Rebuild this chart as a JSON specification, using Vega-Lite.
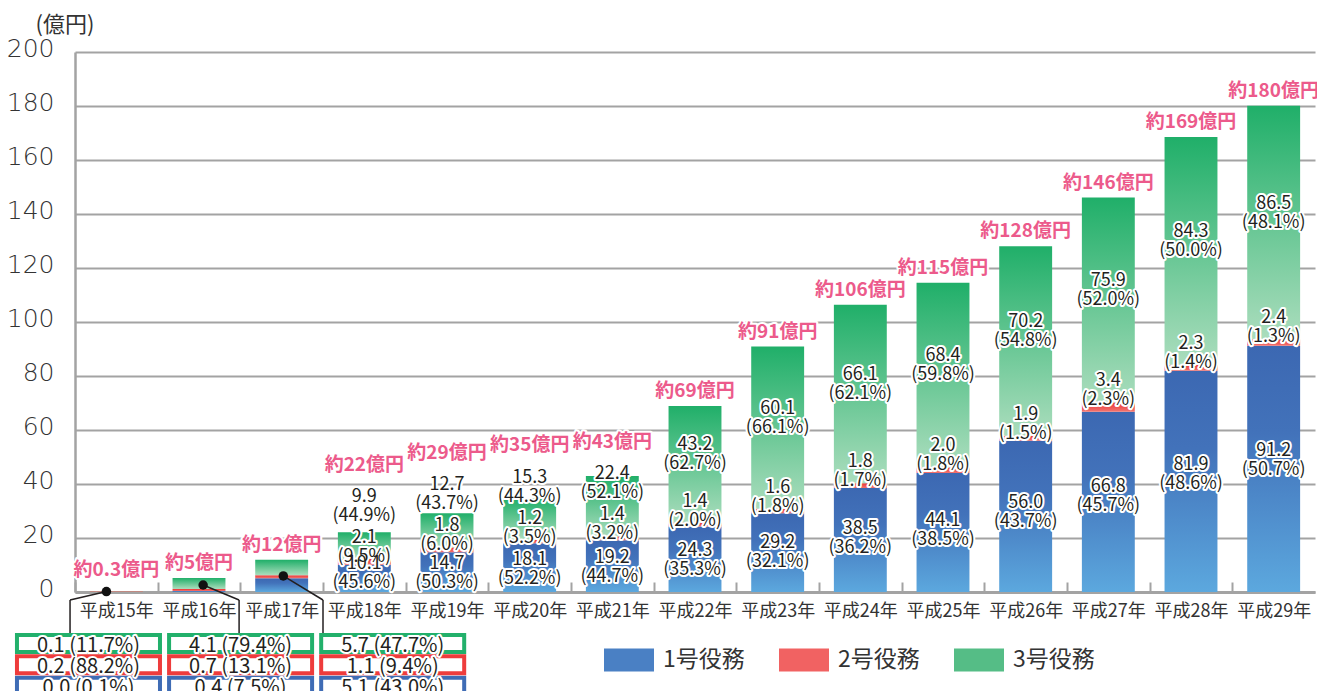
{
  "$schema": "https://vega.github.io/schema/vega-lite/v6.json",
  "autosize": {"type": "none"},
  "width": 1240,
  "height": 540,
  "padding": {"left": 75, "top": 52, "right": 2, "bottom": 99},
  "background": "white",
  "config": {
    "view": {"stroke": null},
    "font": "Noto Sans CJK JP",
    "text": {"font": "Noto Sans CJK JP"}
  },
  "data": {
    "values": [
      {"year": "平成15年", "series": "1号役務", "value": 0.0, "pct": 0.1},
      {"year": "平成15年", "series": "2号役務", "value": 0.2, "pct": 88.2},
      {"year": "平成15年", "series": "3号役務", "value": 0.1, "pct": 11.7},
      {"year": "平成16年", "series": "1号役務", "value": 0.4, "pct": 7.5},
      {"year": "平成16年", "series": "2号役務", "value": 0.7, "pct": 13.1},
      {"year": "平成16年", "series": "3号役務", "value": 4.1, "pct": 79.4},
      {"year": "平成17年", "series": "1号役務", "value": 5.1, "pct": 43.0},
      {"year": "平成17年", "series": "2号役務", "value": 1.1, "pct": 9.4},
      {"year": "平成17年", "series": "3号役務", "value": 5.7, "pct": 47.7},
      {"year": "平成18年", "series": "1号役務", "value": 10.1, "pct": 45.6},
      {"year": "平成18年", "series": "2号役務", "value": 2.1, "pct": 9.5},
      {"year": "平成18年", "series": "3号役務", "value": 9.9, "pct": 44.9},
      {"year": "平成19年", "series": "1号役務", "value": 14.7, "pct": 50.3},
      {"year": "平成19年", "series": "2号役務", "value": 1.8, "pct": 6.0},
      {"year": "平成19年", "series": "3号役務", "value": 12.7, "pct": 43.7},
      {"year": "平成20年", "series": "1号役務", "value": 18.1, "pct": 52.2},
      {"year": "平成20年", "series": "2号役務", "value": 1.2, "pct": 3.5},
      {"year": "平成20年", "series": "3号役務", "value": 15.3, "pct": 44.3},
      {"year": "平成21年", "series": "1号役務", "value": 19.2, "pct": 44.7},
      {"year": "平成21年", "series": "2号役務", "value": 1.4, "pct": 3.2},
      {"year": "平成21年", "series": "3号役務", "value": 22.4, "pct": 52.1},
      {"year": "平成22年", "series": "1号役務", "value": 24.3, "pct": 35.3},
      {"year": "平成22年", "series": "2号役務", "value": 1.4, "pct": 2.0},
      {"year": "平成22年", "series": "3号役務", "value": 43.2, "pct": 62.7},
      {"year": "平成23年", "series": "1号役務", "value": 29.2, "pct": 32.1},
      {"year": "平成23年", "series": "2号役務", "value": 1.6, "pct": 1.8},
      {"year": "平成23年", "series": "3号役務", "value": 60.1, "pct": 66.1},
      {"year": "平成24年", "series": "1号役務", "value": 38.5, "pct": 36.2},
      {"year": "平成24年", "series": "2号役務", "value": 1.8, "pct": 1.7},
      {"year": "平成24年", "series": "3号役務", "value": 66.1, "pct": 62.1},
      {"year": "平成25年", "series": "1号役務", "value": 44.1, "pct": 38.5},
      {"year": "平成25年", "series": "2号役務", "value": 2.0, "pct": 1.8},
      {"year": "平成25年", "series": "3号役務", "value": 68.4, "pct": 59.8},
      {"year": "平成26年", "series": "1号役務", "value": 56.0, "pct": 43.7},
      {"year": "平成26年", "series": "2号役務", "value": 1.9, "pct": 1.5},
      {"year": "平成26年", "series": "3号役務", "value": 70.2, "pct": 54.8},
      {"year": "平成27年", "series": "1号役務", "value": 66.8, "pct": 45.7},
      {"year": "平成27年", "series": "2号役務", "value": 3.4, "pct": 2.3},
      {"year": "平成27年", "series": "3号役務", "value": 75.9, "pct": 52.0},
      {"year": "平成28年", "series": "1号役務", "value": 81.9, "pct": 48.6},
      {"year": "平成28年", "series": "2号役務", "value": 2.3, "pct": 1.4},
      {"year": "平成28年", "series": "3号役務", "value": 84.3, "pct": 50.0},
      {"year": "平成29年", "series": "1号役務", "value": 91.2, "pct": 50.7},
      {"year": "平成29年", "series": "2号役務", "value": 2.4, "pct": 1.3},
      {"year": "平成29年", "series": "3号役務", "value": 86.5, "pct": 48.1}
    ]
  },
  "transform": [
    {"stack": "value", "groupby": ["year"], "sort": [{"field": "series", "order": "ascending"}], "as": ["y0", "y1"]},
    {"joinaggregate": [{"op": "sum", "field": "value", "as": "tsum"}], "groupby": ["year"]},
    {"calculate": "round(datum.tsum * 10) / 10", "as": "total"},
    {"calculate": "datum.series === '1号役務' ? max(0.55 * datum.y1 + 2, 10.4) : datum.series === '2号役務' ? datum.y1 + 7.8 : max((datum.y0 + datum.y1) / 2 + 7, datum.y0 + 23)", "as": "ly"},
    {"calculate": "format(datum.value, '.1f') + '\\n(' + format(datum.pct, '.1f') + '%)'", "as": "lab"},
    {"calculate": "datum.total >= 15 ? max(datum.total + 5.5, datum.ly + 12) : max(datum.total + 5.5, 8)", "as": "ty"},
    {"calculate": "'約' + (datum.total < 1 ? format(datum.total, '.1f') : format(datum.total, '.0f')) + '億円'", "as": "tlab"}
  ],
  "layer": [
    {
      "layer": [
        {
          "transform": [{"filter": "datum.series === '1号役務'"}],
          "mark": {"type": "bar", "color": {"gradient": "linear", "x1": 0, "y1": 0, "x2": 0, "y2": 1, "stops": [{"offset": 0, "color": "#3c68b2"}, {"offset": 0.35, "color": "#4272ba"}, {"offset": 1, "color": "#5ca8de"}]}},
          "encoding": {
            "x": {"field": "year", "type": "nominal", "sort": "ascending",
              "scale": {"type": "band", "paddingInner": 0.36, "paddingOuter": 0.18},
              "axis": {"title": null, "labelAngle": 0, "labelFontSize": 18, "labelColor": "#333333", "labelFont": "Noto Sans CJK JP",
                "domainColor": "#a3a3a3", "domainWidth": 3, "ticks": true, "tickColor": "#a3a3a3", "tickWidth": 2, "tickSize": -10,
                "tickOffset": -41.33, "labelOffset": 41.33, "labelPadding": 20, "labelBaseline": "top", "grid": false}},
            "y": {"field": "y0", "type": "quantitative",
              "scale": {"domain": [0, 200], "nice": false, "zero": true},
              "axis": {"title": "(億円)", "titleAngle": 0, "titleAlign": "left", "titleBaseline": "middle", "titleX": -40, "titleY": -28,
                "titleFontSize": 22, "titleFontWeight": "normal", "titleColor": "#333333", "titleFont": "Noto Sans CJK JP",
                "values": [0, 20, 40, 60, 80, 100, 120, 140, 160, 180, 200],
                "labelFontSize": 25, "labelFontWeight": 300, "labelColor": "#333333", "labelFont": "DejaVu Sans", "labelPadding": 21, "labelOffset": -4,
                "ticks": false, "domainColor": "#a3a3a3", "domainWidth": 2.5, "grid": true, "gridColor": "#a3a3a3", "gridWidth": 2}},
            "y2": {"field": "y1"}
          }
        },
        {
          "transform": [{"filter": "datum.series === '2号役務'"}],
          "mark": {"type": "bar", "color": {"gradient": "linear", "x1": 0, "y1": 0, "x2": 0, "y2": 1, "stops": [{"offset": 0, "color": "#ea3434"}, {"offset": 1, "color": "#f27470"}]}},
          "encoding": {
            "x": {"field": "year", "type": "nominal", "sort": "ascending", "scale": {"type": "band", "paddingInner": 0.36, "paddingOuter": 0.18}},
            "y": {"field": "y0", "type": "quantitative"},
            "y2": {"field": "y1"}
          }
        },
        {
          "transform": [{"filter": "datum.series === '3号役務'"}],
          "mark": {"type": "bar", "color": {"gradient": "linear", "x1": 0, "y1": 0, "x2": 0, "y2": 1, "stops": [{"offset": 0, "color": "#20af69"}, {"offset": 1, "color": "#abddbd"}]}},
          "encoding": {
            "x": {"field": "year", "type": "nominal", "sort": "ascending", "scale": {"type": "band", "paddingInner": 0.36, "paddingOuter": 0.18}},
            "y": {"field": "y0", "type": "quantitative"},
            "y2": {"field": "y1"}
          }
        },
        {
          "mark": {"type": "bar"},
          "encoding": {
            "x": {"field": "year", "type": "nominal", "sort": "ascending", "scale": {"type": "band", "paddingInner": 0.36, "paddingOuter": 0.18}},
            "y": {"field": "y0", "type": "quantitative"},
            "y2": {"field": "y0"},
            "color": {"field": "series", "type": "nominal",
              "scale": {"domain": ["1号役務", "2号役務", "3号役務"], "range": ["#4a80c4", "#f16262", "#55bd86"]},
              "legend": {"orient": "none", "legendX": 529, "legendY": 583, "direction": "horizontal", "title": null,
                "symbolType": "M-1,-0.46H1V0.46H-1Z", "symbolSize": 2500, "symbolStrokeWidth": 0, "symbolOpacity": 1,
                "labelFontSize": 23, "labelColor": "#333333", "labelFont": "Noto Sans CJK JP", "labelOffset": 9, "columnPadding": 34, "padding": 0}}
          }
        },
        {
          "transform": [{"filter": "datum.total >= 15"}],
          "mark": {"type": "text", "lineBreak": "\n", "lineHeight": 19, "fontSize": 18, "baseline": "middle", "align": "center",
            "color": "white", "stroke": "white", "strokeWidth": 4, "strokeJoin": "round"},
          "encoding": {
            "x": {"field": "year", "type": "nominal", "sort": "ascending", "scale": {"type": "band", "paddingInner": 0.36, "paddingOuter": 0.18}},
            "y": {"field": "ly", "type": "quantitative"},
            "text": {"field": "lab"}
          }
        },
        {
          "transform": [{"filter": "datum.total >= 15"}],
          "mark": {"type": "text", "lineBreak": "\n", "lineHeight": 19, "fontSize": 18, "baseline": "middle", "align": "center", "color": "#231f20"},
          "encoding": {
            "x": {"field": "year", "type": "nominal", "sort": "ascending", "scale": {"type": "band", "paddingInner": 0.36, "paddingOuter": 0.18}},
            "y": {"field": "ly", "type": "quantitative"},
            "text": {"field": "lab"}
          }
        },
        {
          "transform": [{"filter": "datum.series === '3号役務'"}],
          "mark": {"type": "text", "fontSize": 19, "fontWeight": "bold", "baseline": "middle", "align": "center",
            "color": "white", "stroke": "white", "strokeWidth": 4, "strokeJoin": "round"},
          "encoding": {
            "x": {"field": "year", "type": "nominal", "sort": "ascending", "scale": {"type": "band", "paddingInner": 0.36, "paddingOuter": 0.18}},
            "y": {"field": "ty", "type": "quantitative"},
            "text": {"field": "tlab"}
          }
        },
        {
          "transform": [{"filter": "datum.series === '3号役務'"}],
          "mark": {"type": "text", "fontSize": 19, "fontWeight": "bold", "baseline": "middle", "align": "center", "color": "#ec5a8b"},
          "encoding": {
            "x": {"field": "year", "type": "nominal", "sort": "ascending", "scale": {"type": "band", "paddingInner": 0.36, "paddingOuter": 0.18}},
            "y": {"field": "ty", "type": "quantitative"},
            "text": {"field": "tlab"}
          }
        }
      ]
    },
    {
      "transform": [
        {"filter": "datum.total < 15"},
        {"calculate": "toNumber(substring(datum.year, 2, 4)) - 15", "as": "k"},
        {"calculate": "-0.702 + 1.84 * datum.k", "as": "bx0"},
        {"calculate": "datum.bx0 + 1.73", "as": "bx1"},
        {"calculate": "datum.bx0 + 0.865", "as": "bxm"},
        {"calculate": "datum.series === '3号役務' ? 0 : datum.series === '2号役務' ? 1 : 2", "as": "j"},
        {"calculate": "-15.93 - 7.9 * datum.j", "as": "by0"},
        {"calculate": "datum.by0 - 6.3", "as": "by1"},
        {"calculate": "(datum.by0 + datum.by1) / 2 - 0.8", "as": "bym"},
        {"calculate": "format(datum.value, '.1f') + ' (' + format(datum.pct, '.1f') + '%)'", "as": "blab"},
        {"calculate": "[0.38, 1.55, 2.52][datum.k]", "as": "dx"},
        {"calculate": "datum.total / 2", "as": "dy"},
        {"calculate": "[-0.06, 1.985, 3.0][datum.k]", "as": "lx"},
        {"calculate": "-2.96", "as": "yb"},
        {"calculate": "-15.2", "as": "yt"}
      ],
      "layer": [
        {
          "mark": {"type": "rect", "fill": "white", "strokeWidth": 4},
          "encoding": {
            "x": {"field": "bx0", "type": "quantitative", "scale": {"domain": [0, 15], "nice": false, "zero": false}, "axis": null},
            "x2": {"field": "bx1"},
            "y": {"field": "by0", "type": "quantitative"},
            "y2": {"field": "by1"},
            "stroke": {"field": "series", "type": "nominal", "scale": {"domain": ["1号役務", "2号役務", "3号役務"], "range": ["#3f6cb5", "#ee3c3c", "#22b06b"]}, "legend": null}
          }
        },
        {
          "mark": {"type": "text", "fontSize": 20, "baseline": "middle", "align": "center", "color": "white", "stroke": "white", "strokeWidth": 4, "strokeJoin": "round"},
          "encoding": {
            "x": {"field": "bxm", "type": "quantitative", "axis": null},
            "y": {"field": "bym", "type": "quantitative"},
            "text": {"field": "blab"}
          }
        },
        {
          "mark": {"type": "text", "fontSize": 20, "baseline": "middle", "align": "center", "color": "#231f20"},
          "encoding": {
            "x": {"field": "bxm", "type": "quantitative", "axis": null},
            "y": {"field": "bym", "type": "quantitative"},
            "text": {"field": "blab"}
          }
        },
        {
          "transform": [{"filter": "datum.series === '3号役務'"}],
          "mark": {"type": "rule", "color": "#231f20", "strokeWidth": 1.5},
          "encoding": {
            "x": {"field": "dx", "type": "quantitative", "axis": null},
            "x2": {"field": "lx"},
            "y": {"field": "dy", "type": "quantitative"},
            "y2": {"field": "yb"}
          }
        },
        {
          "transform": [{"filter": "datum.series === '3号役務'"}],
          "mark": {"type": "rule", "color": "#231f20", "strokeWidth": 1.5},
          "encoding": {
            "x": {"field": "lx", "type": "quantitative", "axis": null},
            "y": {"field": "yb", "type": "quantitative"},
            "y2": {"field": "yt"}
          }
        },
        {
          "transform": [{"filter": "datum.series === '3号役務'"}],
          "mark": {"type": "point", "filled": true, "color": "#111111", "size": 90, "opacity": 1},
          "encoding": {
            "x": {"field": "dx", "type": "quantitative", "axis": null},
            "y": {"field": "dy", "type": "quantitative"}
          }
        }
      ]
    }
  ],
  "resolve": {"scale": {"x": "independent"}}
}
